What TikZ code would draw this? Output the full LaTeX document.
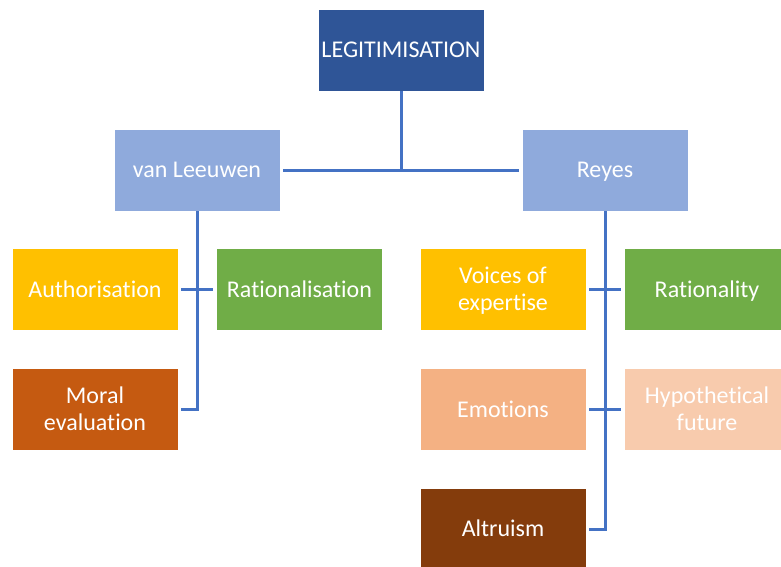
\documentclass[tikz,border=0pt]{standalone}
\usepackage{fontspec}
\setmainfont{Carlito}[RawFeature=-liga]
\definecolor{cTop}{HTML}{2F5597}
\definecolor{cMid}{HTML}{8FAADC}
\definecolor{cYel}{HTML}{FFC000}
\definecolor{cGrn}{HTML}{70AD47}
\definecolor{cOrg}{HTML}{C55A11}
\definecolor{cSal}{HTML}{F4B183}
\definecolor{cPch}{HTML}{F8CBAD}
\definecolor{cBrn}{HTML}{843C0C}
\definecolor{cLine}{HTML}{4472C4}
\newcommand\stt{\rule[-6pt]{0pt}{27pt}}
\begin{document}
\begin{tikzpicture}[x=1pt,y=-1pt,
  box/.style={rectangle, draw=white, line width=0.8pt, inner sep=0pt,
    minimum width=166pt, minimum height=82pt, text=white, align=center,
    font=\fontsize{24}{27}\selectfont},
  conn/.style={draw=cLine, line width=3pt},
  short/.style={shorten <=3pt, shorten >=3pt}]
\useasboundingbox (0,0) rectangle (781,567);
\clip (0,0) rectangle (781,567);
\node[box, fill=cTop] (top) at (401,50) {\stt LEGITIMISATION};
\node[box, fill=cMid] (vl) at (197,170) {\stt van Leeuwen};
\node[box, fill=cMid] (re) at (605,170) {\stt Reyes};
\node[box, fill=cYel] (au) at (95,289.5) {\stt Authorisation};
\node[box, fill=cGrn] (ra) at (299.5,289.5) {\stt Rationalisation};
\node[box, fill=cOrg] (mo) at (95,409.5) {\stt Moral\\\stt evaluation};
\node[box, fill=cYel] (vo) at (503,289.5) {\stt Voices of\\\stt expertise};
\node[box, fill=cGrn] (rt) at (707,289.5) {\stt Rationality};
\node[box, fill=cSal] (em) at (503,409.5) {\stt Emotions};
\node[box, fill=cPch] (hy) at (707,409.5) {\stt Hypothetical\\\stt future};
\node[box, fill=cBrn] (al) at (503,529) {\stt Altruism};
\coordinate (tj) at (top.south |- vl.east);
\coordinate (lj) at (vl.south |- mo.east);
\coordinate (rj) at (re.south |- al.east);
\draw[conn] (top.south) -- (tj);
\draw[conn, short] (vl.east) -- (re.west);
\draw[conn, shorten >=3pt] (vl.south) -- (lj) -- (mo.east);
\draw[conn, short] (au.east) -- (ra.west);
\draw[conn, shorten >=3pt] (re.south) -- (rj) -- (al.east);
\draw[conn, short] (vo.east) -- (rt.west);
\draw[conn, short] (em.east) -- (hy.west);
\end{tikzpicture}
\end{document}
